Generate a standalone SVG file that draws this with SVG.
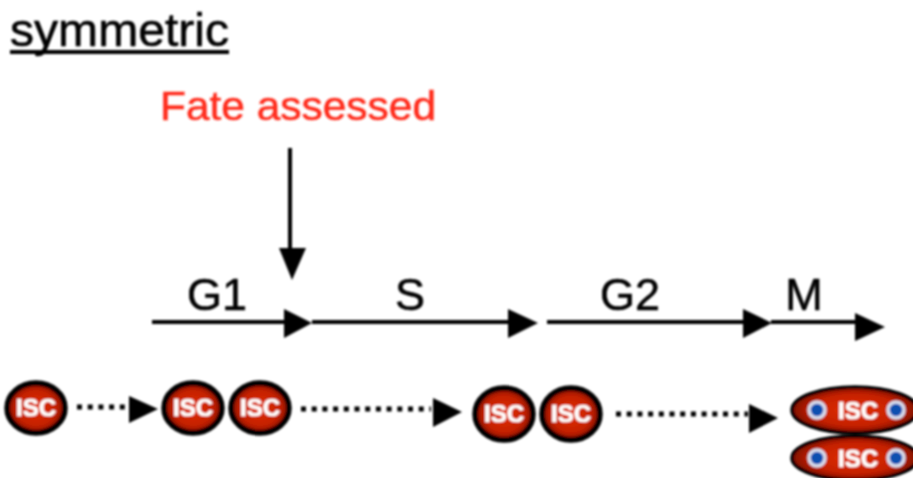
<svg xmlns="http://www.w3.org/2000/svg" width="913" height="478" viewBox="0 0 913 478">
<style>
text{font-family:"Liberation Sans",Arial,sans-serif}
.phase{font-size:45px;fill:#000;stroke:#000;stroke-width:.6;text-anchor:middle}
.isc{font-size:24px;font-weight:bold;fill:#fff;text-anchor:middle;stroke:#fff;stroke-width:.7}
.cell{fill:url(#red);stroke:#000;stroke-width:5.5}
.solid{stroke:#000;stroke-width:4;fill:none}
.dot{stroke:#000;stroke-width:5;fill:none;stroke-dasharray:5 5.7}
.head{fill:#000}
.nuc{fill:#0b4fb0;stroke:#d8dcec;stroke-width:3.5}
</style>
<defs>
<radialGradient id="red"><stop offset="0" stop-color="#e23000"/><stop offset=".7" stop-color="#c42000"/><stop offset="1" stop-color="#7c0e00"/></radialGradient>
<filter id="soft" x="-5%" y="-5%" width="110%" height="110%"><feGaussianBlur stdDeviation=".8"/></filter>
</defs>
<g filter="url(#soft)">
<g id="title">
<text x="10" y="46" font-size="47" fill="#000" stroke="#000" stroke-width=".6" textLength="219" lengthAdjust="spacingAndGlyphs">symmetric</text>
<rect x="10" y="50" width="219" height="4" fill="#000"/>
</g>
<text id="fate-label" x="298" y="120" font-size="41" fill="#ff2a1a" stroke="#ff2a1a" stroke-width=".5" text-anchor="middle" textLength="276" lengthAdjust="spacingAndGlyphs">Fate assessed</text>
<g id="phases">
<text class="phase" x="217" y="310">G1</text>
<text class="phase" x="410" y="310">S</text>
<text class="phase" x="630" y="310">G2</text>
<text class="phase" x="804" y="310">M</text>
</g>
<g id="connectors">
<path class="solid" d="M290 148V250"/><polygon class="head" points="279,248 306,248 292,280"/>
<path class="solid" d="M152 322H286M312 322H510M547 322H745M771 322H856"/>
<polygon class="head" points="284,309 312,323 284,338"/>
<polygon class="head" points="508,309 538,323 508,338"/>
<polygon class="head" points="743,309 772,323 743,338"/>
<polygon class="head" points="855,313 885,327 855,341"/>
<path class="dot" d="M77 407H127M301 409H431M616 414H748"/>
<polygon class="head" points="129,396 158,409 129,423"/>
<polygon class="head" points="433,398 462,412 433,427"/>
<polygon class="head" points="749,404 778,418 749,433"/>
</g>
<g id="cell-1"><ellipse class="cell" cx="36" cy="408" rx="29" ry="25"/><text class="isc" x="36" y="416">ISC</text></g>
<g id="cell-2"><ellipse class="cell" cx="193" cy="408" rx="29" ry="25"/><text class="isc" x="193" y="416">ISC</text></g>
<g id="cell-3"><ellipse class="cell" cx="260" cy="408" rx="29" ry="25"/><text class="isc" x="260" y="416">ISC</text></g>
<g id="cell-4"><ellipse class="cell" cx="504" cy="414" rx="29" ry="26"/><text class="isc" x="504" y="422">ISC</text></g>
<g id="cell-5"><ellipse class="cell" cx="571" cy="414" rx="29" ry="26"/><text class="isc" x="571" y="422">ISC</text></g>
<g id="cell-6"><ellipse class="cell" cx="855" cy="410" rx="63" ry="23" style="stroke-width:3.5"/><circle class="nuc" cx="817" cy="410" r="8"/><circle class="nuc" cx="896" cy="410" r="8"/><text class="isc" x="858" y="419">ISC</text></g>
<g id="cell-7"><ellipse class="cell" cx="855" cy="458" rx="63" ry="22" style="stroke-width:3.5"/><circle class="nuc" cx="817" cy="458" r="8"/><circle class="nuc" cx="896" cy="458" r="8"/><text class="isc" x="858" y="467">ISC</text></g>
</g>
</svg>
